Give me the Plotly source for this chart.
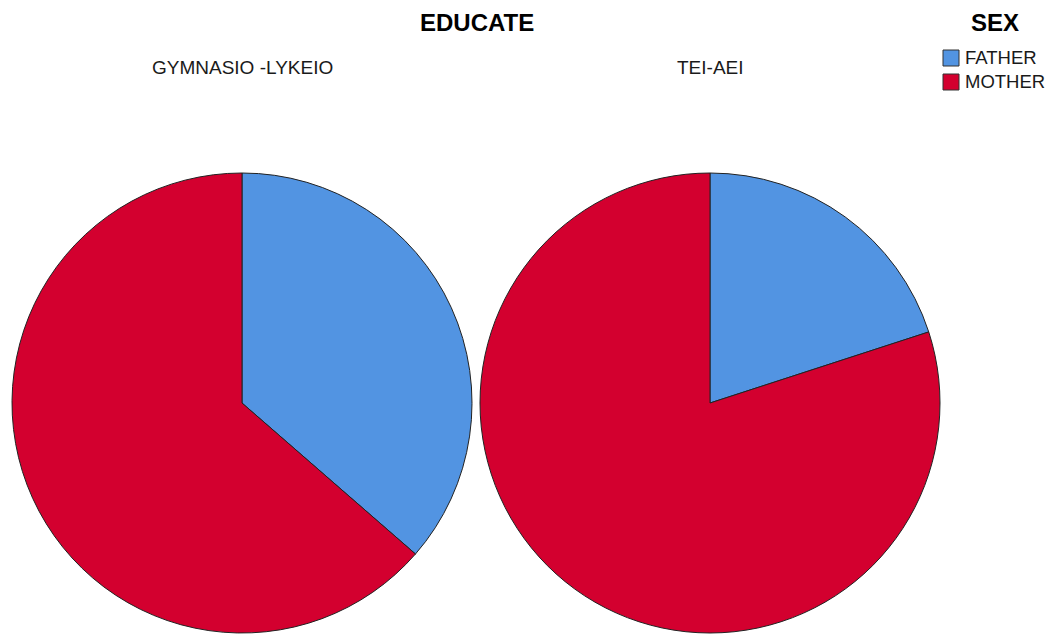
import plotly.graph_objects as go

W, H = 1051, 635
groups = ["GYMNASIO -LYKEIO", "TEI-AEI"]
sex_labels = ["FATHER", "MOTHER"]
father_pct = [36.4, 20.0]
mother_pct = [63.6, 80.0]
colors = ["#5294E2", "#D3002F"]

def px(x): return x / W
def py(y): return 1 - y / H

domains = [
    dict(x=[px(12), px(472)], y=[py(633), py(173)]),
    dict(x=[px(480), px(940)], y=[py(633), py(173)]),
]

fig = go.Figure()
for i, g in enumerate(groups):
    fig.add_trace(go.Pie(
        labels=sex_labels,
        values=[father_pct[i], mother_pct[i]],
        domain=domains[i],
        sort=False,
        direction="clockwise",
        rotation=0,
        textinfo="none",
        hoverinfo="label+percent",
        marker=dict(colors=colors, line=dict(color="#222222", width=1)),
        showlegend=False,
        name=g,
    ))

font = "Liberation Sans, Arial, sans-serif"
ann = [
    dict(text="<b>EDUCATE</b>", x=px(477), y=py(22.5), xanchor="center",
         font=dict(size=24, color="black", family=font)),
    dict(text=groups[0], x=px(242), y=py(67.5), xanchor="center",
         font=dict(size=19, color="#1a1a1a", family=font)),
    dict(text=groups[1], x=px(710), y=py(67.5), xanchor="center",
         font=dict(size=19, color="#1a1a1a", family=font)),
    dict(text="<b>SEX</b>", x=px(995), y=py(22.5), xanchor="center",
         font=dict(size=24, color="black", family=font)),
]
shapes = []
for k, lab in enumerate(sex_labels):
    yc = 58 + 24 * k
    shapes.append(dict(type="rect", xref="paper", yref="paper",
                       x0=px(943), x1=px(959), y0=py(yc - 8), y1=py(yc + 8),
                       fillcolor=colors[k], line=dict(color="#333333", width=1)))
    ann.append(dict(text=lab, x=px(963), y=py(yc), xanchor="left",
                    font=dict(size=18.5, color="#1a1a1a", family=font)))
for a in ann:
    a.update(xref="paper", yref="paper", showarrow=False, yanchor="middle")

fig.update_layout(
    width=W, height=H,
    margin=dict(l=0, r=0, t=0, b=0),
    paper_bgcolor="white", plot_bgcolor="white",
    annotations=ann,
    shapes=shapes,
    showlegend=False,
    font=dict(family=font),
)
fig.write_html("out.html")
